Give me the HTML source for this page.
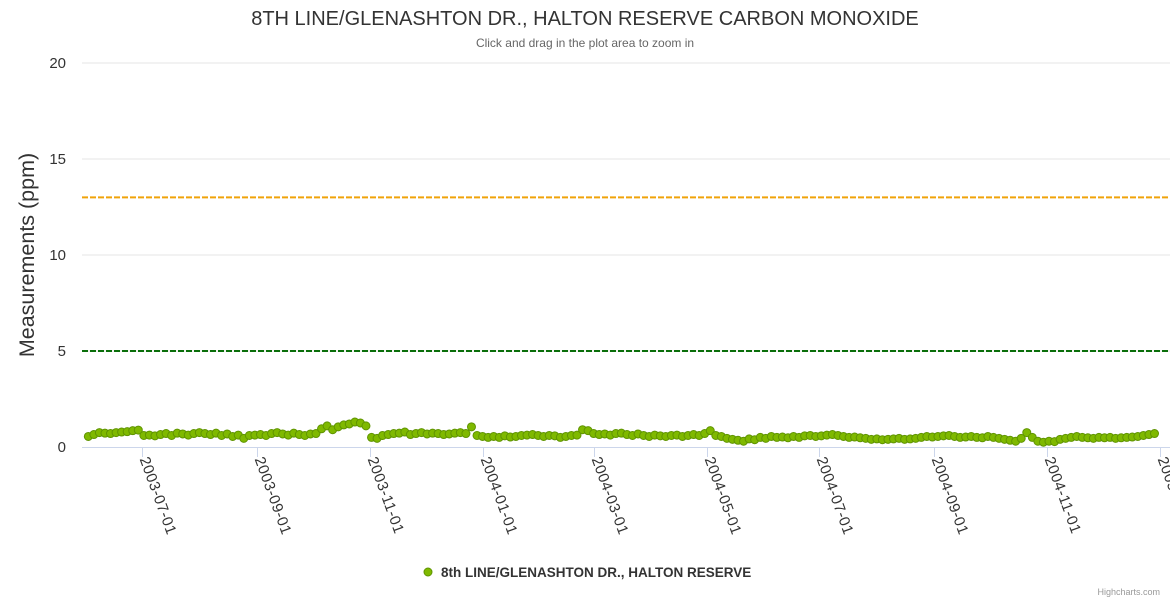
<!DOCTYPE html>
<html><head><meta charset="utf-8">
<style>
body{margin:0;background:#fff;font-family:"Liberation Sans","DejaVu Sans",sans-serif;}
svg text{font-family:"Liberation Sans","DejaVu Sans",sans-serif;}
</style></head>
<body>
<svg id="chart" width="1170" height="600">
<rect width="1170" height="600" fill="#fff"/>
<text x="585" y="25" text-anchor="middle" font-size="20" fill="#333">8TH LINE/GLENASHTON DR., HALTON RESERVE CARBON MONOXIDE</text>
<text x="585" y="47" text-anchor="middle" font-size="12" fill="#666">Click and drag in the plot area to zoom in</text>
<text transform="translate(34,255) rotate(-90)" text-anchor="middle" font-size="21.5" fill="#333">Measurements (ppm)</text>
<g id="grid"></g>
<g id="plotlines"></g>
<g id="xaxis"></g>
<g id="points"></g>
<g>
<circle cx="428" cy="572" r="4" fill="#7fb900" stroke="#5f9400" stroke-width="1"/>
<text x="441" y="577" font-size="13.5" font-weight="bold" fill="#333">8th LINE/GLENASHTON DR., HALTON RESERVE</text>
</g>
<text x="1160" y="595" text-anchor="end" font-size="9" fill="#999">Highcharts.com</text>
</svg>
<script>
const yTicks=[0,5,10,15,20];
const xTickLabels=["2003-07-01","2003-09-01","2003-11-01","2004-01-01","2004-03-01","2004-05-01","2004-07-01","2004-09-01","2004-11-01","2005-01-01"];
const thresholds=[13,5];
const thresholdColors=["#f0a30a","#0a6e0a"];
const startDate="2003-06-02";
const stepDays=3;
const values=[
0.55,0.65,0.75,0.72,0.7,0.75,0.78,0.8,0.85,0.88,
0.6,0.62,0.58,0.65,0.7,0.6,0.72,0.68,0.62,0.7,
0.75,0.7,0.65,0.72,0.6,0.68,0.55,0.62,0.45,0.6,
0.62,0.65,0.6,0.7,0.75,0.68,0.62,0.72,0.65,0.6,
0.68,0.7,0.95,1.1,0.9,1.05,1.15,1.2,1.3,1.25,
1.1,0.5,0.45,0.6,0.65,0.7,0.72,0.78,0.65,0.7,
0.75,0.68,0.72,0.7,0.65,0.68,0.72,0.75,0.7,1.05,
0.6,0.55,0.5,0.55,0.5,0.58,0.52,0.55,0.6,0.62,
0.65,0.6,0.55,0.6,0.58,0.5,0.55,0.6,0.62,0.9,
0.85,0.7,0.65,0.68,0.62,0.7,0.72,0.65,0.6,0.68,
0.6,0.55,0.62,0.58,0.55,0.6,0.62,0.55,0.6,0.65,
0.6,0.7,0.85,0.6,0.55,0.45,0.4,0.35,0.3,0.42,
0.38,0.5,0.45,0.55,0.5,0.52,0.48,0.55,0.5,0.58,
0.6,0.55,0.58,0.62,0.65,0.6,0.55,0.5,0.52,0.48,
0.45,0.4,0.42,0.38,0.4,0.42,0.45,0.4,0.42,0.45,
0.5,0.55,0.52,0.55,0.58,0.6,0.55,0.5,0.52,0.55,
0.5,0.48,0.55,0.5,0.45,0.4,0.35,0.3,0.45,0.75,
0.5,0.3,0.25,0.3,0.28,0.4,0.45,0.5,0.55,0.5,
0.48,0.45,0.5,0.48,0.5,0.45,0.48,0.5,0.52,0.55,
0.6,0.65,0.7];

const NS="http://www.w3.org/2000/svg";
const X0=82,X1=1160,Y0=447,Y1=63;
const dayMs=86400000;
const refDate=Date.UTC(2003,6,1), refX=142, pxPerDay=1.851;
function xScale(ms){return refX+(ms-refDate)/dayMs*pxPerDay;}
function yScale(v){return Y0-(v/20)*(Y0-Y1);}
function parseD(s){const p=s.split('-');return Date.UTC(+p[0],+p[1]-1,+p[2]);}
function mk(tag,attrs,parent){const e=document.createElementNS(NS,tag);for(const k in attrs)e.setAttribute(k,attrs[k]);parent.appendChild(e);return e;}

const grid=document.getElementById('grid');
yTicks.forEach(t=>{
  const y=yScale(t);
  if(t>0){const l=mk('line',{x1:X0,x2:X1+10,y1:y,y2:y,stroke:'#e6e6e6','stroke-width':1},grid);
  
  }
  const tx=mk('text',{x:66,y:y+5,'text-anchor':'end','font-size':15,fill:'#333'},grid);
  tx.textContent=t;
  
  
});
const pl=document.getElementById('plotlines');
thresholds.forEach((t,i)=>{
  const y=yScale(t);
  const l=mk('line',{x1:X0,x2:X1+10,y1:y,y2:y,stroke:thresholdColors[i],'stroke-width':2,'stroke-dasharray':'6,2'},pl);
  
  
});
const xa=document.getElementById('xaxis');
const axl=mk('line',{x1:X0,x2:X1+10,y1:Y0+0.5,y2:Y0+0.5,stroke:'#ccd6eb','stroke-width':1},xa);


xTickLabels.forEach(s=>{
  const x=Math.round(xScale(parseD(s)))+0.5;
  const tk=mk('line',{x1:x,x2:x,y1:Y0,y2:Y0+10,stroke:'#ccd6eb','stroke-width':1},xa);
  
  
  const tx=mk('text',{transform:`translate(${x-3},${Y0+12}) rotate(70)`,'font-size':15,'letter-spacing':'0.5',fill:'#333'},xa);
  tx.textContent=s;
  
  
});
const pts=document.getElementById('points');
const sd=parseD(startDate);
values.forEach((v,i)=>{
  const c=mk('circle',{cx:xScale(sd+i*stepDays*dayMs),cy:yScale(v),r:4,fill:'#7fb900',stroke:'#5f9400','stroke-width':1},pts);
  
  
});
</script>
</body></html>
